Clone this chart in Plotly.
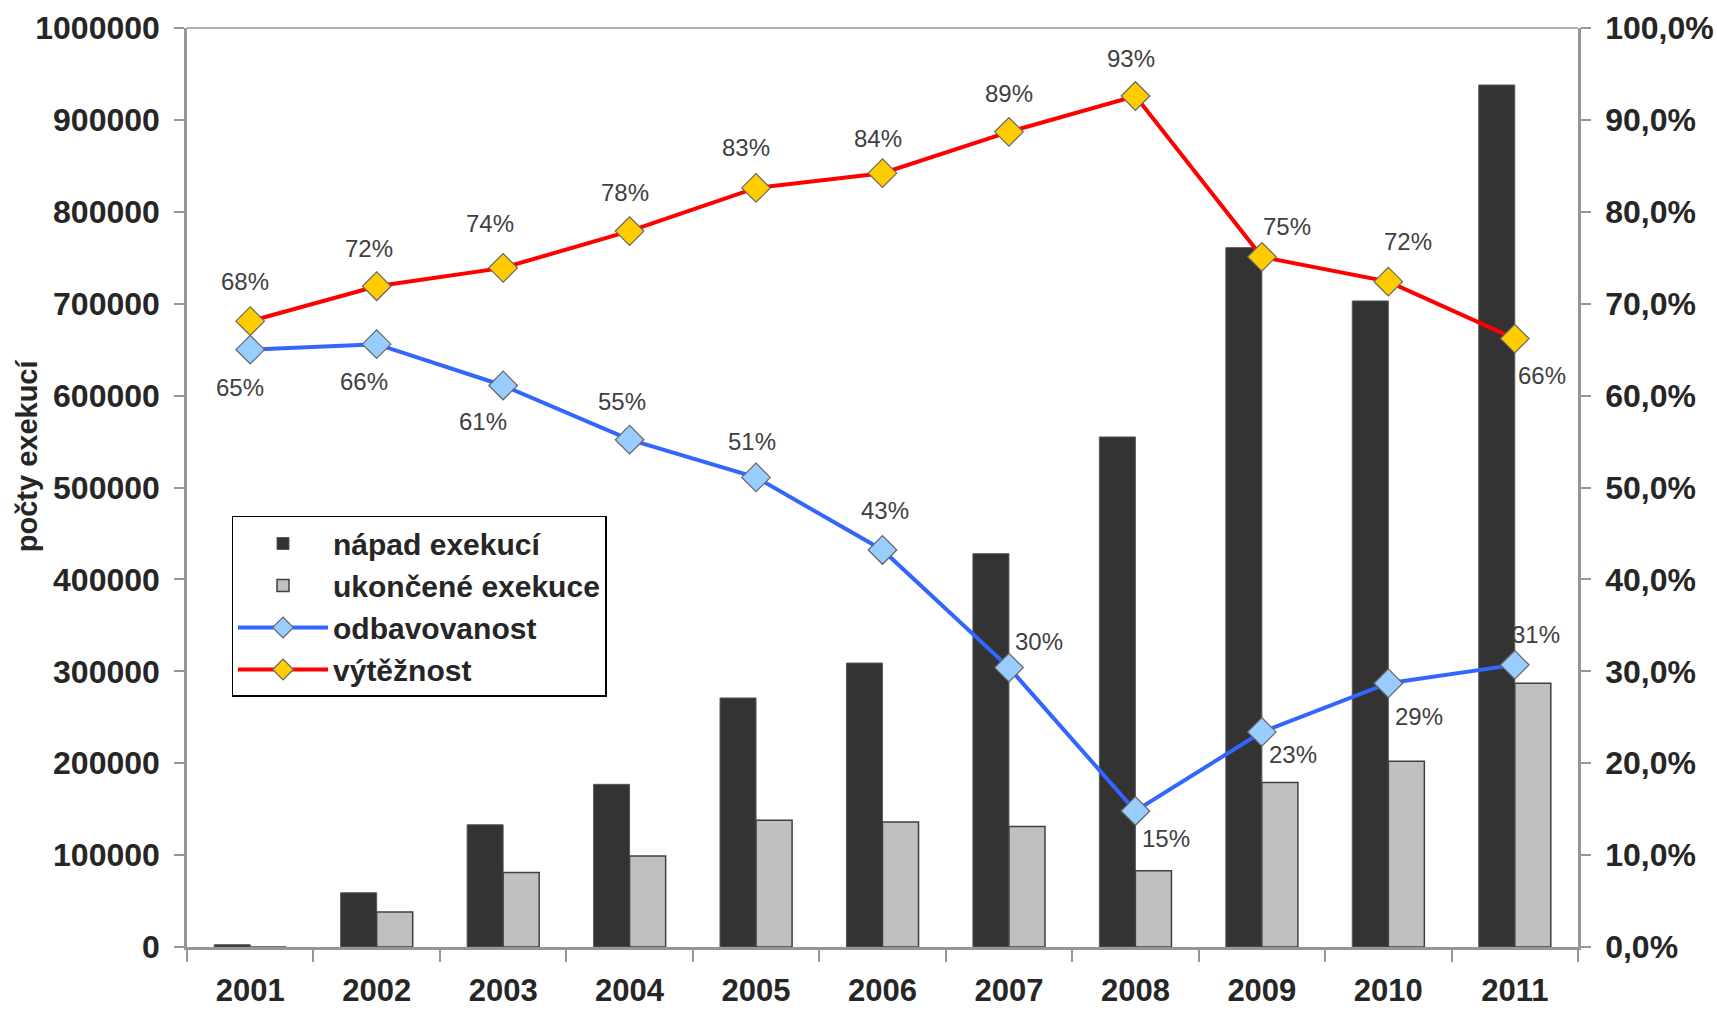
import plotly.graph_objects as go

years = ["2001", "2002", "2003", "2004", "2005", "2006", "2007", "2008", "2009", "2010", "2011"]
napad = [2500, 59000, 133000, 177000, 271000, 309000, 428000, 555000, 761000, 703000, 938000]
ukoncene = [0, 38000, 81000, 99000, 138000, 136000, 131000, 83000, 179000, 202000, 287000]
odbavovanost = [65.0, 65.6, 61.1, 55.2, 51.1, 43.2, 30.4, 14.8, 23.4, 28.7, 30.7]
vyteznost = [68.1, 71.9, 73.9, 77.9, 82.6, 84.2, 88.7, 92.6, 75.1, 72.4, 66.2]

left_ticks = [0, 100000, 200000, 300000, 400000, 500000, 600000, 700000, 800000, 900000, 1000000]
left_ticktext = [str(v) for v in left_ticks]
right_ticks = [0, 10, 20, 30, 40, 50, 60, 70, 80, 90, 100]
right_ticktext = [f"{v},0%" for v in right_ticks]

# label offsets (pixels) relative to the markers
odb_dx = [-10, -13, -20, -8, -4, 2, 30, 31, 31, 31, 21]
odb_dy = [-38, -37, -36, 38, 36, 39, 26, -28, -23, -33, 30]
vyt_dx = [-5, -8, -13, -5, -10, -5, 0, -4, 25, 20, 27]
vyt_dy = [40, 38, 44, 39, 40, 35, 38, 38, 30, 40, -37]

FONT = "Liberation Sans, Arial, sans-serif"
NARROW = "Liberation Sans Narrow, Arial Narrow, Liberation Sans, sans-serif"
AX = "#969696"
TXT = "#262626"

fig = go.Figure()
fig.add_trace(go.Bar(x=years, y=napad, name="nápad exekucí",
                     marker=dict(color="#333333", line=dict(color="#595959", width=1))))
fig.add_trace(go.Bar(x=years, y=ukoncene, name="ukončené exekuce",
                     marker=dict(color="#C0C0C0", line=dict(color="#404040", width=1.5))))
fig.add_trace(go.Scatter(x=years, y=odbavovanost, name="odbavovanost", yaxis="y2",
                         mode="lines+markers",
                         line=dict(color="#3366FF", width=4),
                         marker=dict(symbol="diamond", size=22, color="#99CCFF",
                                     line=dict(color="#666666", width=1.2))))
fig.add_trace(go.Scatter(x=years, y=vyteznost, name="výtěžnost", yaxis="y2",
                         mode="lines+markers",
                         line=dict(color="#FF0000", width=4),
                         marker=dict(symbol="diamond", size=22, color="#FFCC00",
                                     line=dict(color="#666666", width=1.2))))

annotations = []
for vals, dxs, dys in ((odbavovanost, odb_dx, odb_dy), (vyteznost, vyt_dx, vyt_dy)):
    for i, (v, dx, dy) in enumerate(zip(vals, dxs, dys)):
        annotations.append(dict(x=i, y=v, xref="x", yref="y2", text=f"{round(v)}%",
                                showarrow=False, xshift=dx, yshift=dy,
                                font=dict(family=NARROW, size=24, color="#404040")))
annotations.append(dict(x=0, y=0.534, xref="paper", yref="paper", xanchor="center", yanchor="middle",
                        xshift=-160, textangle=-90, showarrow=False, text="počty exekucí",
                        font=dict(family=FONT, size=29, color=TXT, weight="bold")))

fig.update_layout(
    width=1717, height=1011,
    margin=dict(l=187, r=139, t=28, b=64, autoexpand=False),
    paper_bgcolor="white", plot_bgcolor="white",
    barmode="group", bargap=0.43, bargroupgap=0,
    font=dict(family=FONT, color=TXT),
    showlegend=True,
    legend=dict(x=0.032, y=0.469, xanchor="left", yanchor="top",
                bgcolor="white", bordercolor="black", borderwidth=1.5,
                font=dict(family=FONT, size=30, color=TXT, weight="bold"),
                itemwidth=90, tracegroupgap=0),
    xaxis=dict(type="category", range=[-0.5, 10.5], tickson="boundaries", ticks="outside", ticklen=12,
               tickcolor=AX, tickwidth=2, showline=True, linecolor=AX, linewidth=2.5,
               showgrid=False, zeroline=False, tickangle=0,
               tickfont=dict(family=NARROW, size=31, color=TXT, weight="bold"),
               ticklabelstandoff=14),
    yaxis=dict(range=[0, 1000000], tickvals=left_ticks, ticktext=left_ticktext,
               ticks="outside", ticklen=10, tickcolor=AX, tickwidth=2,
               showline=True, linecolor=AX, linewidth=2.5, showgrid=False, zeroline=False,
               tickfont=dict(family=FONT, size=32, color=TXT, weight="bold"),
               ticklabelstandoff=8),
    yaxis2=dict(range=[0, 100], overlaying="y", side="right",
                tickvals=right_ticks, ticktext=right_ticktext,
                ticks="outside", ticklen=10, tickcolor=AX, tickwidth=2,
                showline=True, linecolor=AX, linewidth=2.5, showgrid=False, zeroline=False,
                tickfont=dict(family=FONT, size=32, color=TXT, weight="bold"),
                ticklabelstandoff=8),
    shapes=[dict(type="line", xref="paper", yref="paper", x0=0, x1=1, y0=1, y1=1,
                 line=dict(color=AX, width=1.5))],
    annotations=annotations,
)

fig.write_html("out.html", config={"displayModeBar": False},
               post_script="document.body.style.margin='0';document.body.style.overflow='hidden';")
